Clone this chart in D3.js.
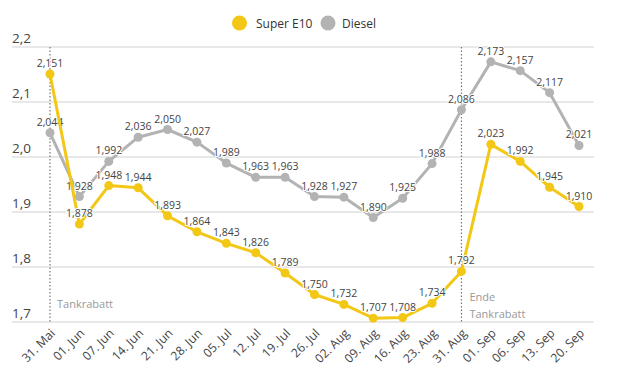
<!DOCTYPE html>
<html><head><meta charset="utf-8">
<script src="https://cdn.jsdelivr.net/npm/d3@7"></script>
<style>body{margin:0;background:#fff;}svg{display:block;font-family:"Open Sans","Noto Sans",sans-serif;}</style>
</head><body><svg id="c" width="630" height="381"></svg>
<script>
const categories = ["31. Mai","01. Jun","07. Jun","14. Jun","21. Jun","28. Jun","05. Jul","12. Jul","19. Jul","26. Jul","02. Aug","09. Aug","16. Aug","23. Aug","31. Aug","01. Sep","06. Sep","13. Sep","20. Sep"];
const superE10 = [2.151,1.878,1.948,1.944,1.893,1.864,1.843,1.826,1.789,1.750,1.732,1.707,1.708,1.734,1.792,2.023,1.992,1.945,1.910];
const diesel = [2.044,1.928,1.992,2.036,2.050,2.027,1.989,1.963,1.963,1.928,1.927,1.890,1.925,1.988,2.086,2.173,2.157,2.117,2.021];
const yTicks = [1.7,1.8,1.9,2.0,2.1,2.2];
const seriesNames = ["Super E10","Diesel"];
const colors = {"Super E10":"#f3c716","Diesel":"#b3b3b3"};

const svg = d3.select("#c");
const x = d3.scalePoint().domain(categories).range([50,579]);
const y = d3.scaleLinear().domain([1.7,2.2]).range([322,47]);
const fmt = v => d3.format(".3f")(v).replace(".", ",");

// grid
svg.append("g").selectAll("line").data(yTicks).join("line")
  .attr("x1",12).attr("x2",594).attr("y1",d=>y(d)).attr("y2",d=>y(d))
  .attr("stroke","#e0e0e0").attr("stroke-width",1.3);
svg.append("g").selectAll("text").data(yTicks).join("text")
  .attr("x",12).attr("y",d=>y(d)-4).attr("font-size",13.5).attr("fill","#444")
  .text(d=>d3.format(".1f")(d).replace(".", ","));

// vertical markers
["31. Mai","31. Aug"].forEach(c=>{
  svg.append("line").attr("x1",x(c)).attr("x2",x(c)).attr("y1",y(2.2)).attr("y2",y(1.7))
    .attr("stroke","#777").attr("stroke-width",1.2).attr("stroke-dasharray","1.5,2");
});
svg.append("text").attr("x",x("31. Mai")+7).attr("y",308).attr("font-size",11).attr("fill","#999").text("Tankrabatt");
svg.append("text").attr("x",x("31. Aug")+8).attr("y",301).attr("font-size",11).attr("fill","#999").text("Ende");
svg.append("text").attr("x",x("31. Aug")+8).attr("y",318).attr("font-size",11).attr("fill","#999").text("Tankrabatt");

// x axis labels
svg.append("g").selectAll("text").data(categories).join("text")
  .attr("transform",d=>`translate(${x(d)+6},${334}) rotate(-45)`)
  .attr("text-anchor","end").attr("font-size",12.2).attr("fill","#444").text(d=>d);

const line = d3.line().x((d,i)=>x(categories[i])).y(d=>y(d));
[["Diesel",diesel],["Super E10",superE10]].forEach(([name,vals])=>{
  const g = svg.append("g");
  g.append("path").attr("d",line(vals)).attr("fill","none").attr("stroke",colors[name]).attr("stroke-width",3).attr("stroke-linejoin","round");
  g.selectAll("circle").data(vals).join("circle")
    .attr("cx",(d,i)=>x(categories[i])).attr("cy",d=>y(d)).attr("r",4.5).attr("fill",colors[name]);
  g.selectAll("text").data(vals).join("text")
    .attr("x",(d,i)=>x(categories[i])).attr("y",d=>y(d)-7)
    .attr("text-anchor","middle").attr("font-size",10.5).attr("fill","#444")
    .attr("stroke","#fff").attr("stroke-width",2).attr("paint-order","stroke")
    .text(d=>fmt(d));
});

// legend
const lg = svg.append("g");
[["Super E10",239.5,256],["Diesel",328,342]].forEach(([n,cx,tx])=>{
  lg.append("circle").attr("cx",cx).attr("cy",23).attr("r",7.5).attr("fill",colors[n]);
  lg.append("text").attr("x",tx).attr("y",27.5).attr("font-size",12).attr("fill","#333").text(n);
});
</script></body></html>
